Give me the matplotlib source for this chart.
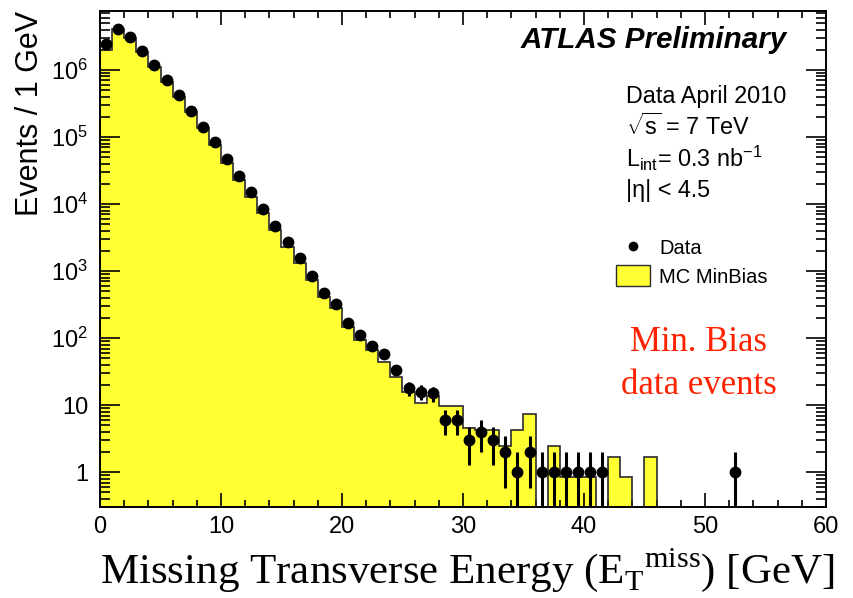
#!/usr/bin/env python3
"""Missing transverse energy in minimum bias events, data vs MC"""
import numpy as np
import matplotlib
matplotlib.use('Agg')
import matplotlib.pyplot as plt
from matplotlib.lines import Line2D
from matplotlib.patches import Patch
from matplotlib.ticker import FixedLocator, LogLocator, FuncFormatter, MultipleLocator

plt.rcParams['font.family'] = ['Liberation Sans', 'DejaVu Sans']
plt.rcParams['mathtext.fontset'] = 'custom'
plt.rcParams['mathtext.rm'] = 'Liberation Serif'
plt.rcParams['mathtext.sf'] = 'Liberation Sans'
plt.rcParams['mathtext.it'] = 'Liberation Sans:italic'

# 1 GeV bins from 0 to 60 GeV
bin_width = 1.0
n_bins = 60

# data points (bin centres, events per bin)
data_centers = [0.5, 1.5, 2.5, 3.5, 4.5, 5.5, 6.5, 7.5, 8.5, 9.5,
                10.5, 11.5, 12.5, 13.5, 14.5, 15.5, 16.5, 17.5, 18.5, 19.5,
                20.5, 21.5, 22.5, 23.5, 24.5, 25.5, 26.5, 27.5, 28.5, 29.5,
                30.5, 31.5, 32.5, 33.5, 34.5, 35.5, 36.5, 37.5, 38.5, 39.5,
                40.5, 41.5, 52.5]
data_counts = [2440000, 4100000, 3150000, 1940000, 1170000, 710000, 420000, 245000, 142000, 84000,
               47000, 26000, 15000, 8400, 4700, 2700, 1550, 850, 468, 324,
               170, 111, 76, 58, 34, 18, 16, 15, 6, 6,
               3, 4, 3, 2, 1, 2, 1, 1, 1, 1,
               1, 1, 1]

# MC MinBias prediction, first 46 bins (the rest are empty)
mc_counts = [2000000, 4100000, 2970000, 1830000, 1120000, 670000, 400000, 240000, 135000, 76000,
             41000, 23000, 12900, 7300, 4100, 2300, 1300, 740, 415, 283,
             148, 94, 66, 44.6, 26.6, 15.9, 10.9, 13.8, 9.8, 9.8,
             4.5, 4.3, 4.3, 2.5, 4.3, 7.4, 0, 2.5, 0.84, 0.84,
             0.84, 0, 1.67, 0.84, 0, 1.67]

ymin, ymax = 0.3, 7.6e6
floor = 1e-3

fig = plt.figure(figsize=(8.54, 5.98), dpi=100)
ax = fig.add_axes([0.1171, 0.1517, 0.8501, 0.8300])

edges = np.arange(n_bins + 1) * bin_width
mc = np.zeros(n_bins)
mc[:len(mc_counts)] = mc_counts
mc_draw = np.where(mc > 0, mc, floor)

# MC histogram: yellow fill plus dark outline
ax.stairs(mc_draw, edges, baseline=floor, fill=True, color='#ffff33', zorder=1)
ax.stairs(mc_draw, edges, baseline=floor, fill=False, color='#2b2b2b', linewidth=1.2, zorder=2)

# data with Poisson errors
x = np.array(data_centers)
n = np.array(data_counts, dtype=float)
err = np.sqrt(n)
lo = np.clip(n - err, floor, None)
ax.errorbar(x, n, yerr=[n - lo, err], fmt='o', color='black', ms=7.5,
            elinewidth=2.2, capsize=0, zorder=4)

ax.set_yscale('log')
ax.set_xlim(0, 60)
ax.set_ylim(ymin, ymax)

ax.xaxis.set_major_locator(MultipleLocator(10))
ax.xaxis.set_minor_locator(MultipleLocator(2))
ax.yaxis.set_major_locator(FixedLocator([1, 10, 1e2, 1e3, 1e4, 1e5, 1e6]))
ax.yaxis.set_minor_locator(LogLocator(base=10, subs=np.arange(2, 10), numticks=20))


def fmt_y(v, pos):
    e = int(round(np.log10(v)))
    if e == 0:
        return '1'
    if e == 1:
        return '10'
    return r'$\mathsf{10^{%d}}$' % e


ax.yaxis.set_major_formatter(FuncFormatter(fmt_y))
ax.yaxis.set_minor_formatter(FuncFormatter(lambda v, p: ''))

ax.tick_params(axis='both', which='both', direction='in', top=True, right=True,
               labelsize=17, width=1.2, zorder=5)
ax.tick_params(axis='x', which='major', length=10, pad=6)
ax.tick_params(axis='x', which='minor', length=5)
ax.tick_params(axis='y', which='major', length=14.5, pad=8.5)
ax.tick_params(axis='y', which='minor', length=7.5)
for s in ax.spines.values():
    s.set_linewidth(1.4)
    s.set_zorder(6)

ax.set_ylabel('Events / 1 GeV', fontsize=22, loc='top')
ax.yaxis.set_label_coords(-0.076, 1.0)
ax.set_xlabel(r'Missing Transverse Energy (E$_{\mathrm{T}}$$^{\mathrm{miss}}$) [GeV]',
              fontsize=31, family='Liberation Serif', loc='right')
ax.xaxis.set_label_coords(1.012, -0.078)

# labels in the upper right
ax.text(0.946, 0.9255, 'ATLAS Preliminary', transform=ax.transAxes, ha='right',
        va='baseline', fontsize=21.3, fontweight='bold', fontstyle='italic')
info = ['Data April 2010',
        r'$\mathsf{\sqrt{s}}$ = 7 TeV',
        r'L$_{\mathsf{int}}$= 0.3 nb$^{\mathsf{-1}}$',
        '|η| < 4.5']
for txt, yy in zip(info, [0.8146, 0.750, 0.6857, 0.6253]):
    ax.text(0.7245, yy, txt, transform=ax.transAxes, ha='left', va='baseline', fontsize=16.8)

handles = [Line2D([], [], marker='o', color='black', linestyle='none', markersize=6),
           Patch(facecolor='#ffff33', edgecolor='#2b2b2b', linewidth=1.0)]
ax.legend(handles, ['Data', 'MC MinBias'], loc='upper left', bbox_to_anchor=(0.711, 0.544),
          frameon=False, fontsize=14.5, handlelength=1.7, handleheight=1.2,
          handletextpad=0.45, labelspacing=0.35, borderpad=0, borderaxespad=0)

ax.text(0.825, 0.333, 'Min. Bias', transform=ax.transAxes, ha='center', va='center',
        fontsize=25, family='Liberation Serif', color='#ff2200')
ax.text(0.825, 0.245, 'data events', transform=ax.transAxes, ha='center', va='center',
        fontsize=25, family='Liberation Serif', color='#ff2200')

fig.savefig('out.png', dpi=100)
